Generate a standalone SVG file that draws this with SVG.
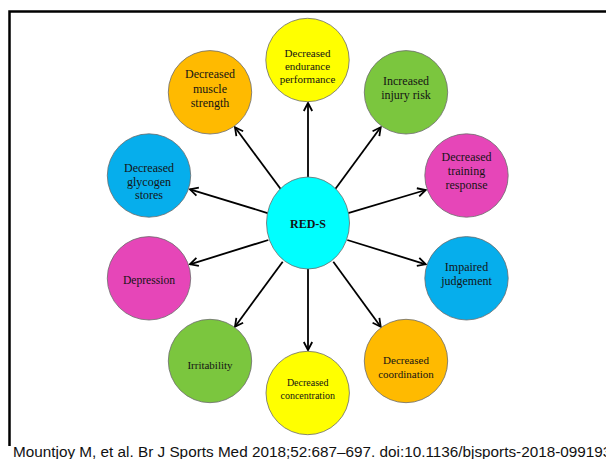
<svg xmlns="http://www.w3.org/2000/svg" width="606" height="459" viewBox="0 0 606 459">
<style>
.node{stroke:#6b6b6b;stroke-width:0.8}
.yellow{fill:#FFFF00}
.orange{fill:#FFBA00}
.green{fill:#7BC63E}
.blue{fill:#06AEEC}
.magenta{fill:#E646B8}
.cyan{fill:#00FFFF}
.lbl{font-family:"Liberation Serif","Times New Roman",serif;fill:#141414;text-anchor:middle}
.conn line{stroke:#000;stroke-width:1.8;fill:none}
.cap{font-family:"Liberation Sans",Arial,Helvetica,sans-serif;font-size:15.3px;fill:#111}
</style>
<defs>
<marker id="arr" markerUnits="userSpaceOnUse" markerWidth="12" markerHeight="12" refX="9" refY="5" orient="auto" viewBox="0 0 12 10">
<path d="M1,0.8 L9,5 L1,9.2" fill="none" stroke="#000" stroke-width="1.8" stroke-linejoin="miter"/>
</marker>
</defs>
<rect width="606" height="459" fill="#fff"/>
<path d="M9.5,446 V11.5 H606" fill="none" stroke="#000" stroke-width="2.5"/>

<g id="connectors" class="conn">
<line x1="308" y1="177" x2="308" y2="103" marker-end="url(#arr)"/>
<line x1="308" y1="269" x2="308" y2="350" marker-end="url(#arr)"/>
<line x1="282.7" y1="191.7" x2="235" y2="127.3" marker-end="url(#arr)"/>
<line x1="333.3" y1="191.7" x2="380.7" y2="127.3" marker-end="url(#arr)"/>
<line x1="268.3" y1="213.3" x2="190" y2="189.3" marker-end="url(#arr)"/>
<line x1="347.3" y1="213.3" x2="425.7" y2="190" marker-end="url(#arr)"/>
<line x1="268.3" y1="240" x2="190" y2="264.3" marker-end="url(#arr)"/>
<line x1="347.3" y1="240" x2="425.7" y2="264.3" marker-end="url(#arr)"/>
<line x1="282.7" y1="261.7" x2="235" y2="326.7" marker-end="url(#arr)"/>
<line x1="333.3" y1="261.7" x2="380.7" y2="326.7" marker-end="url(#arr)"/>
</g>

<g id="red-s">
<ellipse class="node cyan" cx="308" cy="223" rx="41.5" ry="46"/>
<text class="lbl" x="308" y="227.5" font-size="12" font-weight="bold">RED-S</text>
</g>

<g id="endurance">
<ellipse class="node yellow" cx="307.5" cy="60" rx="41.7" ry="41.7"/>
<text class="lbl" font-size="11"><tspan x="307.5" y="56.7">Decreased</tspan><tspan x="307.5" y="70">endurance</tspan><tspan x="307.5" y="83.3">performance</tspan></text>
</g>

<g id="muscle">
<ellipse class="node orange" cx="210" cy="92.3" rx="41.7" ry="41.7"/>
<text class="lbl" font-size="12"><tspan x="210" y="78.3">Decreased</tspan><tspan x="210" y="92.5">muscle</tspan><tspan x="210" y="106.7">strength</tspan></text>
</g>

<g id="injury">
<ellipse class="node green" cx="406" cy="92.3" rx="41.7" ry="41.7"/>
<text class="lbl" font-size="12"><tspan x="406" y="85.3">Increased</tspan><tspan x="406" y="99.3">injury risk</tspan></text>
</g>

<g id="glycogen">
<ellipse class="node blue" cx="149" cy="175.5" rx="41.7" ry="41.7"/>
<text class="lbl" font-size="12"><tspan x="149" y="172">Decreased</tspan><tspan x="149" y="185.5">glycogen</tspan><tspan x="149" y="199">stores</tspan></text>
</g>

<g id="training">
<ellipse class="node magenta" cx="466.5" cy="175.5" rx="41.7" ry="41.7"/>
<text class="lbl" font-size="12"><tspan x="466.5" y="161">Decreased</tspan><tspan x="466.5" y="175.3">training</tspan><tspan x="466.5" y="189.3">response</tspan></text>
</g>

<g id="depression">
<ellipse class="node magenta" cx="149" cy="278.3" rx="41.7" ry="41.7"/>
<text class="lbl" font-size="11.6" x="149" y="284">Depression</text>
</g>

<g id="judgement">
<ellipse class="node blue" cx="466.5" cy="278.3" rx="41.7" ry="41.7"/>
<text class="lbl" font-size="12"><tspan x="466.5" y="270.7">Impaired</tspan><tspan x="466.5" y="285">judgement</tspan></text>
</g>

<g id="irritability">
<ellipse class="node green" cx="210" cy="361" rx="41.7" ry="41.7"/>
<text class="lbl" font-size="11" x="210" y="368.5">Irritability</text>
</g>

<g id="coordination">
<ellipse class="node orange" cx="406" cy="361" rx="41.7" ry="41.7"/>
<text class="lbl" font-size="11"><tspan x="406" y="364">Decreased</tspan><tspan x="406" y="378.3">coordination</tspan></text>
</g>

<g id="concentration">
<ellipse class="node yellow" cx="307.7" cy="393" rx="41.7" ry="41.7"/>
<text class="lbl" font-size="10"><tspan x="307.7" y="386">Decreased</tspan><tspan x="307.7" y="398.5">concentration</tspan></text>
</g>

<text class="cap" x="13" y="456.5">Mountjoy M, et al. Br J Sports Med 2018;52:687–697. doi:10.1136/bjsports-2018-099193</text>
</svg>
